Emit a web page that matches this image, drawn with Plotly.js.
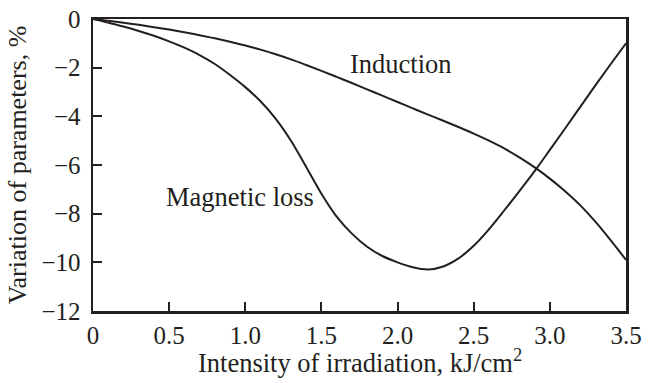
<!DOCTYPE html>
<html>
<head>
<meta charset="utf-8">
<script src="https://cdn.plot.ly/plotly-3.0.1.min.js"></script>
<style>html,body{margin:0;padding:0;background:#fff;}#chart{width:648px;height:383px;}</style>
</head>
<body>
<div id="chart"></div>
<script>
// Induction curve
const inductionX = [0, 0.1, 0.2, 0.3, 0.4, 0.5, 0.6, 0.7, 0.8, 0.9, 1.0, 1.1, 1.2, 1.3, 1.4, 1.5, 1.6, 1.7, 1.8, 1.9, 2.0, 2.1, 2.2, 2.3, 2.4, 2.5, 2.6, 2.7, 2.8, 2.9, 3.0, 3.1, 3.2, 3.3, 3.4, 3.5];
const inductionY = [0, -0.07, -0.15, -0.24, -0.335, -0.435, -0.545, -0.665, -0.795, -0.935, -1.09, -1.26, -1.45, -1.66, -1.89, -2.13, -2.38, -2.63, -2.89, -3.15, -3.41, -3.67, -3.93, -4.18, -4.44, -4.71, -5.0, -5.32, -5.69, -6.1, -6.56, -7.08, -7.66, -8.34, -9.1, -9.9];

// Magnetic loss curve
const lossX = [0, 0.1, 0.2, 0.3, 0.4, 0.5, 0.6, 0.7, 0.8, 0.9, 1.0, 1.1, 1.2, 1.3, 1.4, 1.5, 1.6, 1.7, 1.8, 1.9, 2.0, 2.1, 2.2, 2.3, 2.4, 2.5, 2.6, 2.7, 2.8, 2.9, 3.0, 3.1, 3.2, 3.3, 3.4, 3.5];
const lossY = [0, -0.15, -0.31, -0.49, -0.69, -0.92, -1.18, -1.48, -1.85, -2.3, -2.8, -3.38, -4.1, -5.0, -6.08, -7.18, -8.12, -8.82, -9.36, -9.74, -10.0, -10.2, -10.29, -10.17, -9.84, -9.32, -8.64, -7.87, -7.07, -6.25, -5.38, -4.5, -3.61, -2.72, -1.85, -1.0];

const xTickVals = [0, 0.5, 1.0, 1.5, 2.0, 2.5, 3.0, 3.5];
const xTickText = ["0", "0.5", "1.0", "1.5", "2.0", "2.5", "3.0", "3.5"];
const yTickVals = [0, -2, -4, -6, -8, -10, -12];
const yTickText = ["0", "\u22122", "\u22124", "\u22126", "\u22128", "\u221210", "\u221212"];

const xTitle = 'Intensity of irradiation, kJ/cm<sup>2</sup>';
const yTitle = 'Variation of parameters, %';

const ink = '#231f20';
const fontFam = 'Liberation Serif, Times New Roman, serif';

const traces = [
  {x: inductionX, y: inductionY, mode: 'lines', line: {color: ink, width: 2, shape: 'spline', smoothing: 1}, hoverinfo: 'none'},
  {x: lossX, y: lossY, mode: 'lines', line: {color: ink, width: 2, shape: 'spline', smoothing: 1}, hoverinfo: 'none'}
];

const layout = {
  width: 648, height: 383,
  margin: {l: 93, r: 22, t: 19, b: 72},
  paper_bgcolor: '#fff', plot_bgcolor: '#fff',
  showlegend: false,
  font: {family: fontFam, size: 25, color: ink},
  xaxis: {
    range: [0, 3.5], tickvals: xTickVals, ticktext: xTickText,
    ticks: 'inside', ticklen: 9, tickwidth: 2, tickcolor: ink,
    showline: true, linecolor: ink, linewidth: 2.5, mirror: true,
    showgrid: false, zeroline: false,
    tickfont: {family: fontFam, size: 25, color: ink}
  },
  yaxis: {
    range: [-12, 0], tickvals: yTickVals, ticktext: yTickText,
    ticks: 'inside', ticklen: 9, tickwidth: 2, tickcolor: ink,
    ticklabelstandoff: 5,
    showline: true, linecolor: ink, linewidth: 2.5, mirror: true,
    showgrid: false, zeroline: false,
    tickfont: {family: fontFam, size: 25, color: ink},
    title: {text: yTitle, font: {family: fontFam, size: 26, color: ink}, standoff: 8}
  },
  annotations: [
    {x: 0.5, y: -0.105, xref: 'paper', yref: 'paper', text: xTitle, showarrow: false, xanchor: 'center', yanchor: 'top', font: {family: fontFam, size: 26.5, color: ink}},
    {x: 1.675, y: -1.85, xref: 'x', yref: 'y', text: 'Induction', showarrow: false, xanchor: 'left', yanchor: 'middle', font: {family: fontFam, size: 26.5, color: ink}},
    {x: 1.464, y: -7.3, xref: 'x', yref: 'y', text: 'Magnetic loss', showarrow: false, xanchor: 'right', yanchor: 'middle', font: {family: fontFam, size: 26.5, color: ink}}
  ]
};

Plotly.newPlot('chart', traces, layout, {displayModeBar: false, staticPlot: true});
</script>
</body>
</html>
